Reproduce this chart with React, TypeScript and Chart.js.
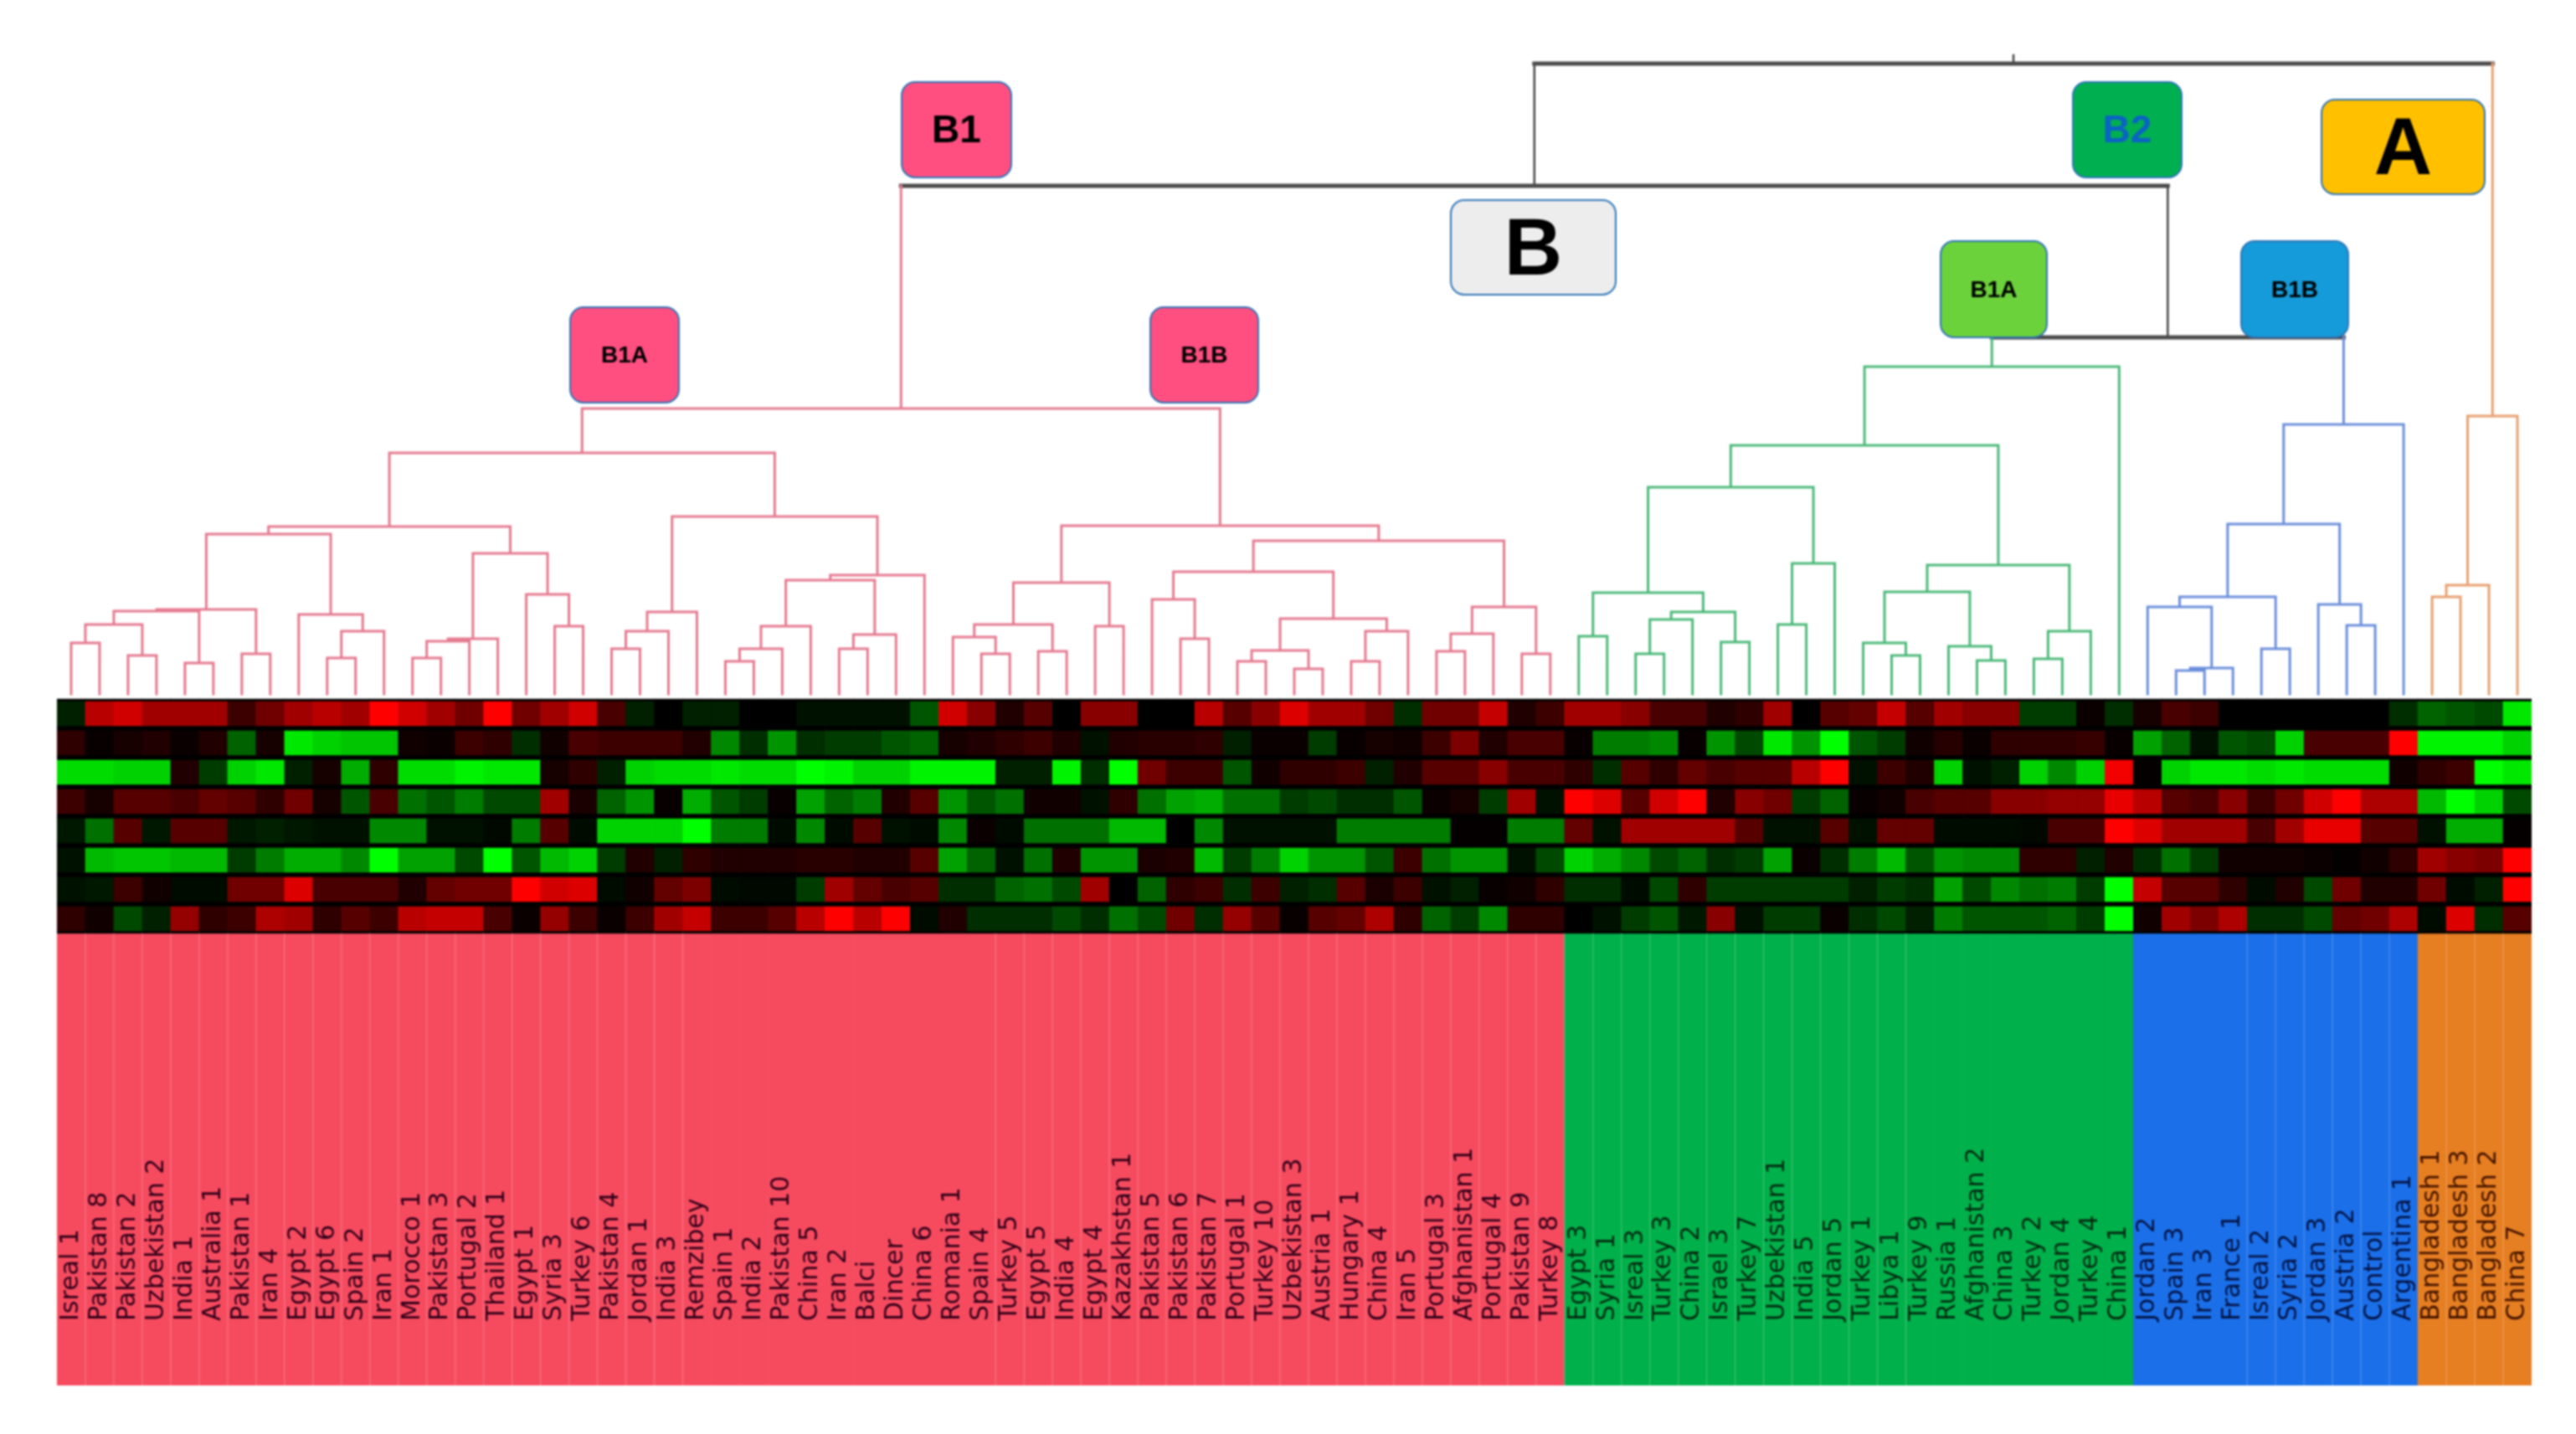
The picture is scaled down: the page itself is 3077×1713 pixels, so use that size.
import React, { useEffect, useRef } from "react";
import { Chart, registerables } from "chart.js";

Chart.register(...registerables);

const redSamples = ["Isreal 1","Pakistan 8","Pakistan 2","Uzbekistan 2","India 1","Australia 1","Pakistan 1","Iran 4","Egypt 2","Egypt 6","Spain 2","Iran 1","Morocco 1","Pakistan 3","Portugal 2","Thailand 1","Egypt 1","Syria 3","Turkey 6","Pakistan 4","Jordan 1","India 3","Remzibey","Spain 1","India 2","Pakistan 10","China 5","Iran 2","Balci","Dincer","China 6","Romania 1","Spain 4","Turkey 5","Egypt 5","India 4","Egypt 4","Kazakhstan 1","Pakistan 5","Pakistan 6","Pakistan 7","Portugal 1","Turkey 10","Uzbekistan 3","Austria 1","Hungary 1","China 4","Iran 5","Portugal 3","Afghanistan 1","Portugal 4","Pakistan 9","Turkey 8"];
const greenSamples = ["Egypt 3","Syria 1","Isreal 3","Turkey 3","China 2","Israel 3","Turkey 7","Uzbekistan 1","India 5","Jordan 5","Turkey 1","Libya 1","Turkey 9","Russia 1","Afghanistan 2","China 3","Turkey 2","Jordan 4","Turkey 4","China 1"];
const blueSamples = ["Jordan 2","Spain 3","Iran 3","France 1","Isreal 2","Syria 2","Jordan 3","Austria 2","Control","Argentina 1"];
const orangeSamples = ["Bangladesh 1","Bangladesh 3","Bangladesh 2","China 7"];
const samples = [...redSamples, ...greenSamples, ...blueSamples, ...orangeSamples];

// heat map: -10 (full green) .. 0 (black) .. +10 (full red)
const row1 = [-1,7,8,6,6,6,2,4,6,7, 6,10,8,6,4,10,4,6,8,2.5, -1,0,-1,-1,0,0,-.5,-.5,-.5,-.5, -3,8,5,1,3,0,5,5,0,0, 7,3,5,8.5,6,6,4,-1.5,4,4, 7.5,1,2,6,6,5,2.5,2.5,1,1.5, 6,0,3,3.5,7.5,3,6,5,5,-2, -2,.3,-1.5,.7,2.5,2,0,0,0,0, 0,0,-1.5,-3.5,-3,-2.5,-9];
const row2 = [1.5,.2,.7,1,.3,1,-3.5,.7,-9,-8, -7.5,-7.5,.5,.3,2,1.5,-1.5,.5,2.5,2, 2,2,1,-5,-1.5,-5.5,-1.5,-2,-2,-3, -3.5,.7,1,1.5,2,1,-.5,1,1.3,1.3, 1.5,-1,.3,.3,-2,.2,.7,.5,2,4.5, 1,2.5,2.5,.2,-4.5,-4.5,-5,.2,-5.5,-2.5, -9,-5.5,-10,-3,-2,.5,1.2,.3,1.5,1.5, 1.5,1.8,.2,-6,-3.5,-.5,-3,-2.5,-8,2.5, 2.5,2.5,10,-9.5,-9.5,-9.5,-8];
const row3 = [-8.5,-8.5,-8,-8,1,-2,-8,-9,-1,.7, -6.5,1.5,-8.5,-8.5,-9.5,-9,-9,.7,1.5,-1, -8,-8.5,-8.5,-9,-8.5,-8.5,-10,-9.5,-8,-8, -9.5,-9.5,-9.5,-1,-1,-9.5,-1.5,-10,4,2, 2,-3,.5,1.5,1.5,2,-1,1,3,3, 5,2.5,2.5,1.5,-1.5,3,1.5,3.5,2.5,3, 3,7,10,-.5,2,1,-8,-.5,-1,-8, -5,-8,9.5,.1,-8,-9,-9,-8.5,-9,-8.5, -8.5,-8.5,.5,1.5,2,-10,-9];
const row4 = [2,.7,3,3,2.5,3.5,3,1.5,4,.7, -3,2.5,-4,-3,-4.5,-2.5,-2.5,6,.8,-3.5, -5.5,.2,-6.5,-3,-2,.2,-6,-3.5,-4.5,1, 3,-5.5,-3,-4,.5,.5,-.5,1.5,-4,-6, -6.5,-4,-4,-2,-2.5,-1.5,-1.5,-3,.3,.7, -2,6,-.5,10,8.5,3,8,10,1,5, 4,-2,-3.5,.2,.5,2.5,3,3,5,5, 5.5,5.5,9,7,3,2.5,5,2,4,8, 10,6.5,6.5,-7,-10,-8,-2.5];
const row5 = [-.7,-4,3,-.7,3,3,-.7,-1,-.7,-.5, -.5,-5,-5,-.5,-.5,-.2,-4.5,3,-.3,-8, -8,-8,-10,-4.5,-4.5,-.3,-5,-.3,3,-.5, -.3,-5,.3,-.3,-4,-4,-4,-7,-7,0, -5,-.5,-.5,-.5,-.5,-4.5,-4.5,-4.5,-4.5,.1, .1,-4.5,-4.5,3.5,-.5,6,6,6,6,3, -.5,-.5,3,-.5,3.5,3.5,-.3,-.3,-.3,-.2, 2.5,2.5,10,8.5,6,6,6,2.5,6,9, 9,3,3,-.5,-6.5,-6.5,.1];
const row6 = [-.5,-7,-7.5,-7.5,-7,-7,-2,-4.5,-6.5,-6.5, -5,-10,-6,-6,-2.5,-10,-3,-7,-8,-2, 1,-1,1.5,1,1,1,1.3,1.3,1,1, 3,-6,-3.5,-.5,-4,1,-5.5,-5.5,.8,1, -7,-2,-4.5,-8,-5.5,-5.5,-3,2,-4,-5.5, -5.5,-.5,-2.5,-8,-6.5,-5,-2.5,-3.5,-1.5,-2, -6,.3,-1.5,-4.5,-7,-3,-5.5,-5,-5,1.5, 1.5,-1,1,-1.5,-4,-2,.5,.5,.5,.3, .1,.5,1.5,6,5,4.5,10];
const row7 = [-.5,-.7,2,.5,-.3,-.3,4,4,8.5,2.5, 2.5,2.5,1,3.5,4,4,10,8,8.5,-.3, .5,3.5,4.5,-.3,-.2,-.2,-2,6,3.5,2.5, 3,-1.5,-1.5,-3.5,-4,-2.5,6,0,-3.5,1.5, 2,-1.5,2,-1,-1.5,3,.8,2,-.5,-1, .2,.5,1.5,-1.5,-1.5,-.3,-2.5,1.5,-2,-2, -2,-2,-2,-1,-2,-1.5,-6,-2.5,-5,-4, -4.5,-2,-10,7.5,3,3,1.5,-.3,1,-2.5, 4,1,1,4,-.3,-1,10];
const row8 = [1.5,.5,-2.5,-1,5.5,1.5,2,6.5,6,1.5, 3,2,7,7.5,7.5,2.5,.3,5.5,2,.3, 2,6,7.5,2,2,3,7,10,7,10, -.3,1,-1.5,-1.5,-1.5,-2.5,-1.5,-4,-2.5,4, -1.5,5.5,3,.2,3,3.5,6.5,1.5,-3.5,-2, -5,1.5,1.5,0,-.5,-2,-3,-.7,5,-.5, -2,-2,.3,-1.5,-2.5,-1,-4.5,-3,-3,-3, -3.5,-2,-10,.5,6,4.5,6.5,-1.5,-1.5,-2.5, 3.5,4,6.5,-.3,8.5,-1.5,3];
const heatRows = [row1, row2, row3, row4, row5, row6, row7, row8];

// dendrogram: [merge height, left, right]; a bare number is a leaf (column index)
const b1aTree: any = [294,
  [206,
    [197,
      [107, [105, [89, [67, 0, 1], [52, 2, 3]], [43, 4, 5]], [54, 6, 7]],
      [101, 8, [81, [49, 9, 10], 11]]],
    [174,
      [72, [69, [49, 12, 13], 14], 15],
      [125, 16, [87, 17, 18]]]],
  [218,
    [104, [81, [60, 19, 20], 21], 22],
    [148,
      [142, [87, [60, [45, 23, 24], 25], 26], [77, [60, 27, 28], 29]],
      30]]];
const b1bTree: any = [207,
  [139, [89, [74, 31, [54, 32, 33]], [57, 34, 35]], [87, 36, 37]],
  [189,
    [152,
      [119, 38, [72, 39, 40]],
      [96, [58, [45, 41, 42], [36, 43, 44]], [81, [45, 45, 46], 47]]],
    [110, [78, [57, 48, 49], 50], [54, 51, 52]]]];
const greenTree: any = [397,
  [303,
    [253,
      [127, [75, 53, 54], [104, [95, [54, 55, 56], 57], [68, 58, 59]]],
      [162, [89, 60, 61], 62]],
    [160,
      [128, [67, 63, [52, 64, 65]], [63, 66, [46, 67, 68]]],
      [81, [48, 69, 70], 71]]],
  72];
const blueTree: any = [328,
  [209, [122, [110, 73, [37, [34, 74, 75], 76]], [60, 77, 78]], [113, 79, [88, 80, 81]]],
  82];
const orangeTree: any = [338, [136, [122, 83, 84], 85], 86];
const rootTree: any = [759, [613, [347, b1aTree, b1bTree], [432, greenTree, blueTree]], orangeTree];
const rootStemTop = 769;
const leafBase = 6;

// boundaries (after column) at which the colour band shows a pale rule
const ruleRanges = [[0, 21], [32, 64], [76, 81], [83, 85]];

const clusterBoxes = [
  { text: "B1", left: 1077, right: 1208, top: 98, bottom: 212, fill: "#FF4F81", ink: "#000", size: 46 },
  { text: "B2", left: 2476, right: 2606, top: 98, bottom: 212, fill: "#00B050", ink: "#0B63C4", size: 46 },
  { text: "A", left: 2773, right: 2968, top: 119, bottom: 232, fill: "#FFC000", ink: "#000", size: 96 },
  { text: "B", left: 1733, right: 1930, top: 239, bottom: 352, fill: "#EDEDED", ink: "#000", size: 96 },
  { text: "B1A", left: 2318, right: 2445, top: 288, bottom: 403, fill: "#6CD23C", ink: "#000", size: 28 },
  { text: "B1B", left: 2677, right: 2805, top: 288, bottom: 403, fill: "#159BD9", ink: "#000", size: 28 },
  { text: "B1A", left: 681, right: 811, top: 367, bottom: 481, fill: "#FF4F81", ink: "#000", size: 28 },
  { text: "B1B", left: 1374, right: 1503, top: 367, bottom: 481, fill: "#FF4F81", ink: "#000", size: 28 },
];

const groupSizes = [redSamples.length, greenSamples.length, blueSamples.length, orangeSamples.length];
const groupBand = ["#F64B5F", "#00B04A", "#1B6FE8", "#E67E22"];
const groupLine = ["#E57A90", "#4DB97A", "#6C8FDC", "#E8A070"];
const groupInk = ["#32001A", "#012C12", "#051548", "#451500"];
const darkH = "#4A4A4A";
const darkV = "#444444";

const groupOf = (c: number) => {
  let end = 0;
  for (let g = 0; g < groupSizes.length; g++) {
    end += groupSizes[g];
    if (c < end) return g;
  }
  return groupSizes.length - 1;
};
const heatColor = (v: number) => {
  const t = Math.round(Math.pow(Math.abs(v) / 10, 0.9) * 255);
  return v >= 0 ? `rgb(${t},0,0)` : `rgb(0,${t},0)`;
};

type Pt = { x: number; y: number | null };
function buildTree() {
  const buckets: Pt[][] = [[], [], [], [], [], []]; // groups 0-3, 4 dark horizontal, 5 dark vertical
  const seg = (b: number, x0: number, y0: number, x1: number, y1: number) => {
    buckets[b].push({ x: x0, y: y0 }, { x: x1, y: y1 }, { x: x1, y: null });
  };
  const walk = (n: any): { x: number; h: number; lo: number; hi: number } => {
    if (typeof n === "number") return { x: n, h: leafBase, lo: n, hi: n };
    const a = walk(n[1]);
    const b = walk(n[2]);
    const lo = a.lo;
    const hi = b.hi;
    const g = groupOf(lo) === groupOf(hi) ? groupOf(lo) : -1;
    seg(g < 0 ? 4 : g, a.x, n[0], b.x, n[0]);
    for (const k of [a, b]) {
      const kg = groupOf(k.lo) === groupOf(k.hi) ? groupOf(k.lo) : 5;
      seg(kg, k.x, k.h, k.x, n[0]);
    }
    return { x: (a.x + b.x) / 2, h: n[0], lo, hi };
  };
  const r = walk(rootTree);
  seg(5, r.x, r.h, r.x, rootStemTop);
  return buckets;
}

const HEAT_TOP = 835;
const BAND_BOTTOM = 1655;
const ROW_PITCH = 35;
const BAND_TOP = -ROW_PITCH * heatRows.length;

const boxPlugin = {
  id: "clusterBoxes",
  afterDatasetsDraw(chart: any) {
    const { ctx } = chart;
    const y = chart.scales.y;
    const xs = chart.scales.xLeaf;
    const toY = (py: number) => y.getPixelForValue(HEAT_TOP - py);
    const toX = (px: number) => xs.getPixelForValue(-0.5 + ((px - 68) / 2956) * samples.length);
    ctx.save();
    for (const b of clusterBoxes) {
      const l = toX(b.left), r = toX(b.right), t = toY(b.top), btm = toY(b.bottom);
      ctx.beginPath();
      ctx.roundRect(l, t, r - l, btm - t, 16);
      ctx.fillStyle = b.fill;
      ctx.fill();
      ctx.lineWidth = 2;
      ctx.strokeStyle = "#2E75B6";
      ctx.stroke();
      ctx.fillStyle = b.ink;
      ctx.font = `bold ${b.size}px "Liberation Sans"`;
      ctx.textAlign = "center";
      ctx.textBaseline = "middle";
      ctx.fillText(b.text, (l + r) / 2, (t + btm) / 2 + b.size * 0.06);
    }
    ctx.restore();
  },
};

export default function App() {
  const ref = useRef<HTMLCanvasElement>(null);
  useEffect(() => {
    document.body.style.margin = "0";
    document.body.style.background = "#fff";
    const buckets = buildTree();
    const rulePts: Pt[] = [];
    for (const [a, b] of ruleRanges) {
      for (let c = a; c <= b; c++) {
        rulePts.push({ x: c + 0.5, y: BAND_TOP }, { x: c + 0.5, y: HEAT_TOP - BAND_BOTTOM }, { x: c + 0.5, y: null });
      }
    }
    const lineDs = (data: Pt[], color: string, width: number, label: string) => ({
      type: "line" as const,
      label,
      data,
      xAxisID: "xLeaf",
      yAxisID: "y",
      borderColor: color,
      borderWidth: width,
      pointRadius: 0,
      borderCapStyle: "square" as const,
      spanGaps: false,
      tension: 0,
      order: 0,
    });
    const barDs = (label: string, data: any[], colors: string[], order: number) => ({
      type: "bar" as const,
      label,
      data,
      backgroundColor: colors,
      borderWidth: 0,
      grouped: false,
      barPercentage: 1,
      categoryPercentage: 1,
      xAxisID: "x",
      yAxisID: "y",
      order,
    });
    const chart = new Chart(ref.current!, {
      type: "bar",
      data: {
        labels: samples,
        datasets: [
          ...groupLine.map((c, g) => lineDs(buckets[g], c, 3, `clade ${g}`)),
          lineDs(buckets[4], darkH, 5, "upper merges"),
          lineDs(buckets[5], darkV, 2.5, "upper stems"),
          lineDs(rulePts, "rgba(255,255,255,0.18)", 1.5, "rules"),
          ...heatRows.map((row, i) =>
            barDs(
              `trait ${i + 1}`,
              row.map(() => [-ROW_PITCH * i - 3, -ROW_PITCH * i - 32]),
              row.map(heatColor),
              1
            )
          ),
          barDs("heat ground", samples.map(() => [0, BAND_TOP]), samples.map(() => "#000000"), 2),
          barDs(
            "groups",
            samples.map(() => [BAND_TOP, HEAT_TOP - BAND_BOTTOM]),
            samples.map((_, c) => groupBand[groupOf(c)]),
            2
          ),
        ],
      } as any,
      options: {
        responsive: false,
        animation: false,
        events: [],
        layout: { padding: { left: 68, right: 53, top: 0, bottom: 1713 - BAND_BOTTOM } },
        plugins: { legend: { display: false }, tooltip: { enabled: false }, title: { display: false } },
        scales: {
          x: {
            type: "category",
            position: "top",
            offset: true,
            grid: { display: false, drawTicks: false },
            border: { display: false },
            afterFit(a: any) {
              a.height = 0;
              a.paddingLeft = 0;
              a.paddingRight = 0;
              a.paddingTop = 0;
              a.paddingBottom = 0;
            },
            ticks: {
              autoSkip: false,
              mirror: true,
              minRotation: 90,
              maxRotation: 90,
              padding: 1578,
              labelOffset: 0,
              z: 2,
              font: { family: '"DejaVu Sans"', size: 30 },
              color: (c: any) => groupInk[groupOf(c.index)],
            },
          },
          xLeaf: { type: "linear", axis: "x", display: false, offset: false, min: -0.5, max: samples.length - 0.5 },
          y: { type: "linear", display: false, min: HEAT_TOP - BAND_BOTTOM, max: HEAT_TOP },
        },
      } as any,
      plugins: [boxPlugin],
    });
    return () => chart.destroy();
  }, []);
  return (
    <canvas
      ref={ref}
      width={3077}
      height={1713}
      style={{ display: "block", width: 3077, height: 1713, filter: "blur(0.8px)" }}
    />
  );
}
